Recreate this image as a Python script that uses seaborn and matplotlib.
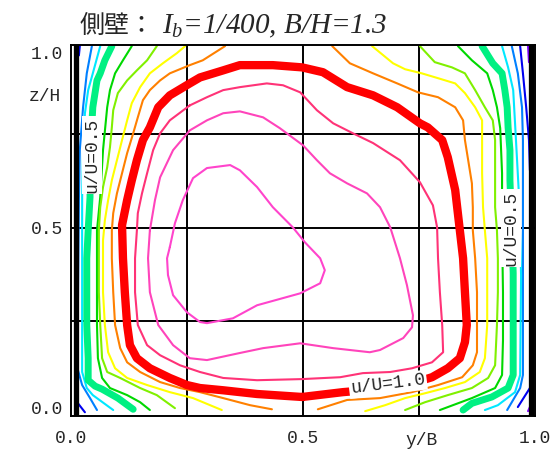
import pandas as pd
import matplotlib
matplotlib.use("Agg")
import matplotlib.pyplot as plt
import seaborn as sns

u10_y = [.498, .401, .328, .278, .250, .213, .170, .142, .127, .121, .116, .112, .110, .121, .131, .142,
         .155, .170, .188, .213, .256, .278, .328, .364, .435, .498, .543, .595, .651, .703, .752, .769,
         .800, .812, .828, .838, .845, .849, .853, .849, .838, .812, .778, .709, .586, .498]
u10_z = [.046, .054, .064, .070, .078, .097, .123, .150, .185, .239, .327, .418, .507, .574, .627, .681,
         .735, .769, .823, .855, .887, .903, .922, .936, .936, .930, .917, .877, .855, .823, .780, .769,
         .735, .689, .601, .493, .418, .327, .239, .193, .150, .123, .099, .072, .059, .046]

u11_y = [.256, .293, .328, .364, .422, .457, .494, .530, .565, .608, .651, .709, .752, .780, .789, .791,
         .795, .800, .802, .778, .735, .688, .629, .580, .498, .401, .328, .278, .235, .192, .164, .144,
         .138, .138, .142, .144, .153, .164, .177, .192, .213, .256]
u11_z = [.828, .850, .869, .877, .887, .882, .863, .815, .780, .753, .727, .681, .622, .560, .501, .418,
         .327, .239, .166, .139, .123, .113, .110, .099, .094, .091, .097, .113, .131, .158, .185, .239,
         .327, .418, .493, .539, .592, .646, .708, .753, .788, .828]

u12_y = [.170, .181, .192, .220, .256, .293, .328, .364, .414, .450, .500, .530, .558, .595, .638, .666,
         .688, .709, .724, .737, .735, .716, .666, .644, .565, .494, .414, .364, .293, .256, .220, .188,
         .170, .166, .170]
u12_z = [.493, .574, .635, .708, .761, .788, .807, .812, .796, .767, .721, .681, .646, .619, .592, .555,
         .501, .418, .346, .265, .233, .204, .172, .166, .177, .190, .177, .164, .145, .150, .185, .239,
         .327, .418, .493]

u13_y = [.213, .224, .241, .263, .293, .343, .364, .401, .435, .478, .504, .537, .547, .537, .494, .401,
         .349, .293, .278, .250, .220, .209, .207, .213]
u13_z = [.448, .512, .574, .633, .660, .668, .654, .609, .555, .501, .461, .418, .386, .351, .324, .292,
         .257, .244, .247, .273, .319, .373, .418, .448]

u09_left_y = [.332, .284, .256, .213, .192, .170, .155, .144, .134, .121, .110, .099, .091, .088, .088,
              .091, .095, .106, .121, .149, .192, .235, .278, .328, .386, .433]
u09_left_z = [.987, .949, .936, .914, .895, .869, .842, .796, .753, .700, .646, .592, .539, .493, .418,
              .327, .239, .177, .139, .113, .086, .070, .059, .043, .024, .013]
u09_right_y = [.563, .601, .651, .703, .748, .791, .828, .845, .849, .856, .864, .866, .866, .871, .875,
               .875, .875, .866, .843, .791, .735, .666, .595, .532]
u09_right_z = [.987, .941, .914, .887, .863, .850, .823, .788, .735, .681, .619, .555, .493, .418, .327,
               .239, .166, .131, .099, .078, .059, .043, .038, .013]

u08_left_y = [.246, .228, .198, .170, .149, .131, .121, .110, .099, .088, .080, .073, .069, .069, .069,
              .073, .080, .095, .121, .164, .213, .263, .325]
u08_left_z = [.987, .968, .941, .914, .877, .834, .788, .735, .681, .627, .574, .520, .466, .418, .327,
              .239, .166, .123, .097, .078, .059, .043, .011]
u08_right_y = [.649, .694, .720, .756, .791, .828, .849, .871, .886, .886, .886, .888, .892, .897, .897,
               .897, .892, .881, .849, .806, .763, .720, .677, .634]
u08_right_z = [.987, .941, .925, .914, .901, .887, .861, .823, .788, .735, .646, .555, .493, .418, .327,
               .239, .150, .113, .086, .070, .056, .043, .024, .008]

u07_left_y = [.185, .164, .142, .121, .101, .091, .088, .084, .078, .069, .063, .060, .060, .060, .063,
              .067, .078, .106, .149, .185, .224]
u07_left_z = [.987, .949, .922, .895, .861, .815, .769, .716, .662, .609, .555, .493, .418, .327, .239,
              .150, .113, .097, .070, .051, .016]
u07_right_y = [.752, .784, .821, .849, .871, .892, .909, .914, .914, .914, .918, .920, .920, .918, .914,
               .899, .864, .812, .763, .720]
u07_right_z = [.987, .944, .930, .914, .869, .823, .788, .735, .646, .555, .493, .418, .327, .239, .131,
               .097, .070, .051, .032, .011]

u06_left_y = [.131, .112, .095, .084, .078, .069, .063, .056, .056, .056, .056, .058, .067, .084, .121,
              .149, .170]
u06_left_z = [.987, .949, .914, .869, .823, .708, .582, .493, .418, .327, .239, .150, .097, .070, .051,
              .032, .011]
u06_right_y = [.834, .864, .897, .909, .918, .925, .929, .929, .931, .931, .929, .914, .864, .795]
u06_right_z = [.987, .949, .914, .869, .823, .767, .646, .493, .327, .198, .105, .070, .043, .011]

u05_left_y = [.088, .073, .063, .056, .047, .043, .041, .041, .037, .034, .034, .034, .037, .037, .052,
              .067, .101, .134]
u05_left_z = [.987, .949, .914, .895, .823, .735, .654, .582, .493, .418, .327, .239, .150, .091, .075,
              .067, .043, .013]
u05_right_y = [.886, .909, .929, .935, .940, .942, .946, .946, .950, .953, .953, .953, .942, .907, .864, .845]
u05_right_z = [.987, .941, .914, .869, .823, .769, .708, .627, .493, .378, .239, .105, .070, .046, .029, .011]

u04_left_y = [.063, .047, .037, .030, .026, .024, .024, .024, .034, .047, .091]
u04_left_z = [.987, .914, .869, .807, .708, .582, .306, .113, .070, .051, .011]
u04_right_y = [.929, .942, .953, .957, .961, .966, .970, .968, .957, .920, .892]
u04_right_z = [.987, .930, .869, .780, .689, .574, .373, .105, .059, .024, .011]

u03_left_y = [.045, .034, .026, .019, .017, .015, .015, .024, .041, .056]
u03_left_z = [.987, .914, .823, .708, .574, .306, .118, .078, .043, .011]
u03_right_y = [.950, .963, .972, .974, .974, .974, .974, .974, .968, .950, .940]
u03_right_z = [.987, .914, .823, .735, .646, .493, .306, .105, .070, .032, .011]

u02_pieces = [([.019, .017], [.987, .962]),
              ([.015, .030], [.029, .005]),
              ([.968, .974, .981, .987, .989], [.987, .914, .823, .735, .654]),
              ([.989, .963], [.070, .019])]
u01_pieces = [([.985, .987], [.987, .944]),
              ([.985, .989], [.008, .019])]

levels = ["0.1", "0.2", "0.3", "0.4", "0.5", "0.6", "0.7", "0.8", "0.9", "1.0", "1.1", "1.2", "1.3"]
level_colors = ["#8000ff", "#0000f0", "#0080ff", "#00e8ff", "#00f082", "#00d800", "#80f000",
                "#ffff00", "#ff8000", "#ff0000", "#ff3377", "#ff44bb", "#ff44cc"]
level_widths = [1.5, 1.5, 1.5, 1.5, 5.0, 1.5, 1.5, 1.5, 1.5, 6.0, 1.5, 1.5, 1.5]

pieces = [("1.0", u10_y, u10_z), ("1.1", u11_y, u11_z), ("1.2", u12_y, u12_z), ("1.3", u13_y, u13_z),
          ("0.9", u09_left_y, u09_left_z), ("0.9", u09_right_y, u09_right_z),
          ("0.8", u08_left_y, u08_left_z), ("0.8", u08_right_y, u08_right_z),
          ("0.7", u07_left_y, u07_left_z), ("0.7", u07_right_y, u07_right_z),
          ("0.6", u06_left_y, u06_left_z), ("0.6", u06_right_y, u06_right_z),
          ("0.5", u05_left_y, u05_left_z), ("0.5", u05_right_y, u05_right_z),
          ("0.4", u04_left_y, u04_left_z), ("0.4", u04_right_y, u04_right_z),
          ("0.3", u03_left_y, u03_left_z), ("0.3", u03_right_y, u03_right_z)]
pieces += [("0.2", a, b) for a, b in u02_pieces]
pieces += [("0.1", a, b) for a, b in u01_pieces]

rows = []
for k, (lev, ys, zs) in enumerate(pieces):
    for a, b in zip(ys, zs):
        rows.append({"y/B": a, "z/H": b, "level": lev, "piece": k})
df = pd.DataFrame(rows)

sns.set_style("white")
plt.rcParams["font.family"] = ["Liberation Mono", "DejaVu Sans"]
plt.rcParams["mathtext.fontset"] = "custom"
plt.rcParams["mathtext.it"] = "Liberation Serif:italic"
plt.rcParams["mathtext.rm"] = "Liberation Serif"
plt.rcParams["lines.solid_joinstyle"] = "round"

fig = plt.figure(figsize=(5.5, 4.51), dpi=100)
ax = fig.add_axes([71 / 550, 35 / 451, 464 / 550, 371 / 451])

# grid of the measuring section
for g in [0.25, 0.5, 0.75]:
    ax.axvline(g, color="black", lw=1.4, zorder=1)
    ax.axhline(g, color="black", lw=1.4, zorder=1)

sns.lineplot(data=df, x="y/B", y="z/H", hue="level", size="level", units="piece",
             estimator=None, sort=False, hue_order=levels, size_order=levels,
             palette=dict(zip(levels, level_colors)), sizes=dict(zip(levels, level_widths)),
             legend=False, ax=ax, zorder=2)

# side walls
ax.axvline(0.0097, color="black", lw=3.8, zorder=4)
ax.axvline(0.991, color="black", lw=3.8, zorder=4)

label_kw = dict(ha="center", va="center", fontsize=13, zorder=5,
                bbox=dict(fc="white", ec="none", pad=1.0))
ax.text(0.045, 0.694, "u/U=0.5", rotation=90, **label_kw)
ax.text(0.948, 0.499, "u/U=0.5", rotation=90, **label_kw)
ax.text(0.683, 0.080, "u/U=1.0", rotation=7, **label_kw)

ax.set_xlim(0, 1)
ax.set_ylim(-0.005, 0.99)
ax.set_xticks([0, 0.5, 1.0], ["0.0", "0.5", "1.0"])
ax.set_yticks([0.019, 0.5, 0.970], ["0.0", "0.5", "1.0"])
ax.tick_params(axis="x", length=0, pad=10, labelsize=13)
ax.tick_params(axis="y", length=0, pad=6, labelsize=13)
ax.set_xlabel("")
ax.set_ylabel("")
for s in ax.spines.values():
    s.set_color("black")
    s.set_linewidth(1.4)

ax.text(-0.022, 0.853, "z/H", ha="right", va="center", fontsize=13, clip_on=False)
ax.text(0.756, -0.072, "y/B", ha="center", va="center", fontsize=13, clip_on=False)

fig.text(80 / 550, 1 - 33 / 451, "側壁：", family=["Noto Sans CJK JP", "DejaVu Sans"],
         fontsize=18, va="baseline")
fig.text(162 / 550, 1 - 33 / 451, r"$I_b$=1/400, B/H=1.3", family="Liberation Serif",
         style="italic", fontsize=21, va="baseline")

fig.savefig("out.png", dpi=100)
